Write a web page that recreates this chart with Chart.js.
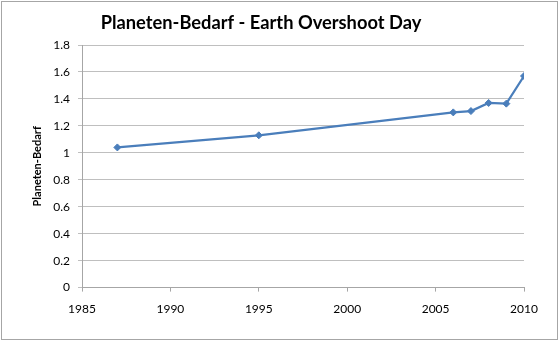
<!DOCTYPE html>
<html>
<head>
<meta charset="utf-8">
<script src="https://cdn.jsdelivr.net/npm/chart.js@4"></script>
<style>
  html, body { margin: 0; padding: 0; background: #fff; }
  #wrap { width: 560px; height: 342px; position: relative; }
</style>
</head>
<body>
<div id="wrap"><canvas id="ctx" width="560" height="342"></canvas></div>
<script>
// Jahre und Planeten-Bedarf
const years = [1987, 1995, 2006, 2007, 2008, 2009, 2010]
const bedarf = [1.04, 1.13, 1.30, 1.31, 1.37, 1.365, 1.57]
const xTicks = [1985, 1990, 1995, 2000, 2005, 2010]
const yTicks = [0, 0.2, 0.4, 0.6, 0.8, 1, 1.2, 1.4, 1.6, 1.8]
const chartTitle = "Planeten-Bedarf - Earth Overshoot Day"
const yTitle = "Planeten-Bedarf"

const fontName = "Lato, 'Open Sans', sans-serif"
const blue = "#4a7ebb"

//Rahmen und Titel werden selbst gezeichnet
const frameAndTitle = {
  id: "frameAndTitle",
  beforeDraw(chart) {
    const { ctx } = chart
    ctx.save()
    ctx.fillStyle = "#fff"
    ctx.fillRect(0, 0, chart.width, chart.height)
    ctx.strokeStyle = "#a6a6a6"
    ctx.lineWidth = 1
    ctx.strokeRect(1.5, 1.5, 556, 338)
    ctx.restore()
  },
  afterDraw(chart) {
    const { ctx } = chart
    ctx.save()
    ctx.font = "bold 18.3px " + fontName
    ctx.fillStyle = "#000"
    ctx.textAlign = "center"
    ctx.textBaseline = "middle"
    ctx.fillText(chartTitle, 261, 23)
    ctx.restore()
  },
}

const points = years.map((y, i) => ({ x: y, y: bedarf[i] }))

new Chart(document.getElementById("ctx"), {
  type: "line",
  plugins: [frameAndTitle],
  data: {
    datasets: [
      {
        data: points,
        borderColor: blue,
        backgroundColor: blue,
        borderWidth: 2.25,
        pointStyle: "rectRot",
        pointRadius: 3.5,
        pointBorderWidth: 1,
        tension: 0,
      },
    ],
  },
  options: {
    responsive: false,
    animation: false,
    layout: { padding: { left: 10, right: 36, top: 45, bottom: 16 } },
    plugins: {
      legend: { display: false },
      title: { display: false },
      tooltip: { enabled: false },
    },
    scales: {
      x: {
        type: "linear",
        min: xTicks[0],
        max: xTicks[xTicks.length - 1],
        afterBuildTicks(scale) {
          scale.ticks = xTicks.map(v => ({ value: v }))
        },
        ticks: {
          color: "#000",
          font: { family: fontName, size: 12 },
          padding: 10,
          maxRotation: 0,
          callback: v => String(v),
        },
        grid: {
          drawOnChartArea: false,
          drawTicks: true,
          tickLength: 4,
          color: "#a6a6a6",
        },
        border: { color: "#a6a6a6" },
      },
      y: {
        min: 0,
        max: 1.8,
        afterBuildTicks(scale) {
          scale.ticks = yTicks.map(v => ({ value: v }))
        },
        afterFit(scale) {
          scale.width = 72
        },
        ticks: {
          color: "#000",
          font: { family: fontName, size: 12 },
          padding: 8,
          callback: v => String(+v.toFixed(1)),
        },
        grid: {
          color: "#bfbfbf",
          tickLength: 4,
        },
        border: { color: "#a6a6a6" },
        title: {
          display: true,
          text: yTitle,
          color: "#000",
          font: { family: fontName, size: 11, weight: "bold" },
          padding: { top: 21, bottom: 0 },
        },
      },
    },
  },
})
</script>
</body>
</html>
